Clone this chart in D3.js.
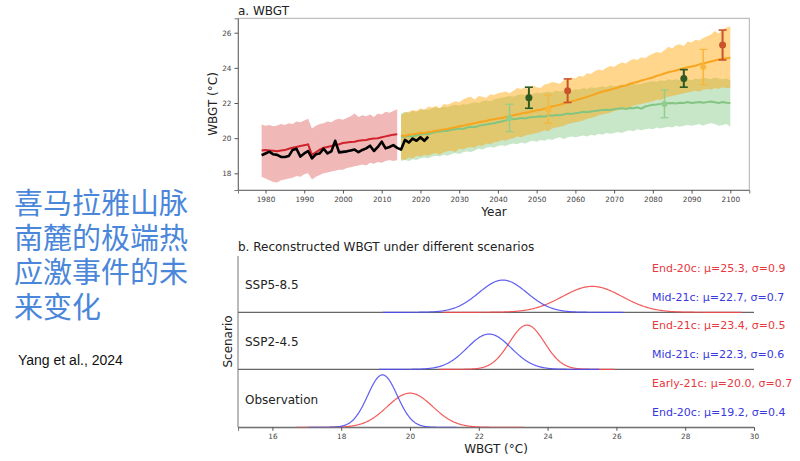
<!DOCTYPE html>
<html><head><meta charset="utf-8">
<script src="https://cdn.jsdelivr.net/npm/d3@7"></script>
<style>
body{margin:0;background:#fff}
svg{display:block}
text{font-family:"DejaVu Sans",sans-serif}
</style>
</head><body>
<svg id="c" width="800" height="461"></svg>
<script>
// ---------------- DATA ----------------
const histStart = 1979;   // historical model run 1979-2014
const histMean  = [19.3,19.32,19.3,19.28,19.25,19.3,19.32,19.4,19.45,19.5,19.55,19.6,19.65,19.05,19.2,19.35,19.45,19.5,19.55,19.6,19.65,19.72,19.75,19.78,19.8,19.85,19.88,19.9,19.95,19.98,20.0,20.05,20.1,20.15,20.2,20.22];
const histUpper = [20.78,20.7,20.75,20.68,20.72,20.8,20.75,20.85,20.8,20.95,20.9,21.0,21.1,20.55,20.7,20.8,20.85,20.95,20.9,21.05,21.1,21.05,21.15,21.25,21.4,21.2,21.3,21.25,21.35,21.2,21.4,21.35,21.5,21.45,21.55,21.65];
const histLower = [17.8,17.7,17.6,17.5,17.48,17.6,17.65,17.7,17.75,17.85,17.8,17.95,18.0,17.65,17.8,17.9,18.0,18.05,18.1,18.15,18.2,18.2,18.3,18.35,18.4,18.45,18.5,18.45,18.6,18.55,18.65,18.6,18.7,18.75,18.7,18.76];

const obsStart = 1979;    // observation 1979-2022
const obsValues = [19.03,19.13,19.23,19.08,19.05,18.93,18.93,18.98,19.33,19.4,18.95,19.13,19.27,18.85,19.08,19.13,19.4,19.13,19.25,19.85,19.19,19.22,19.25,19.3,19.35,19.2,19.33,19.42,19.57,19.27,19.5,19.8,19.42,19.5,19.6,19.45,19.35,19.9,19.75,19.98,19.85,20.05,19.85,20.08];

const projStart = 2015;   // projections 2015-2100
const ssp585Mean  = [20.15,20.12,20.2,20.22,20.25,20.3,20.28,20.35,20.38,20.42,20.45,20.5,20.52,20.58,20.62,20.68,20.7,20.76,20.8,20.85,20.9,20.95,20.98,21.05,21.08,21.12,21.15,21.2,21.26,21.3,21.34,21.4,21.45,21.48,21.53,21.58,21.62,21.68,21.74,21.8,21.85,21.9,21.97,22.03,22.1,22.15,22.22,22.28,22.35,22.42,22.5,22.58,22.65,22.7,22.75,22.82,22.88,22.95,23.0,23.08,23.15,23.2,23.28,23.33,23.4,23.45,23.55,23.6,23.68,23.75,23.8,23.85,23.92,23.98,24.03,24.08,24.12,24.2,24.25,24.3,24.36,24.42,24.48,24.52,24.55,24.57];
const ssp585Upper = [21.3,21.45,21.5,21.6,21.55,21.7,21.6,21.8,21.75,21.85,21.7,21.95,21.9,22.0,22.1,22.05,22.2,22.3,22.35,22.2,22.4,22.35,22.3,22.5,22.45,22.55,22.6,22.65,22.55,22.7,22.85,22.8,22.9,22.75,23.0,22.9,22.85,23.05,23.1,23.2,23.15,23.1,23.3,23.35,23.45,23.4,23.55,23.5,23.7,23.65,23.8,23.9,23.85,24.0,24.1,24.05,24.2,24.3,24.25,24.4,24.5,24.45,24.6,24.55,24.7,24.8,24.9,24.85,25.0,25.2,25.1,25.3,25.35,25.25,25.5,25.45,25.6,25.55,25.7,25.8,25.9,26.1,25.95,26.2,26.3,26.35];
const ssp585Lower = [18.8,18.75,18.9,18.85,19.0,18.95,19.05,19.0,19.1,19.15,19.05,19.2,19.25,19.3,19.2,19.4,19.35,19.45,19.5,19.45,19.6,19.55,19.7,19.65,19.75,19.8,19.9,19.85,19.95,20.0,20.1,20.05,20.15,20.2,20.25,20.3,20.35,20.45,20.4,20.55,20.6,20.65,20.7,20.8,20.85,20.9,20.95,21.0,21.1,21.15,21.2,21.3,21.35,21.4,21.45,21.55,21.6,21.65,21.7,21.75,21.85,21.9,21.95,22.0,22.05,22.1,22.2,22.15,22.3,22.35,22.4,22.45,22.5,22.55,22.6,22.65,22.7,22.65,22.75,22.8,22.75,22.85,22.8,22.9,22.85,22.85];
const ssp245Mean  = [20.05,20.1,20.12,20.1,20.15,20.2,20.25,20.22,20.3,20.35,20.38,20.4,20.42,20.48,20.5,20.55,20.52,20.6,20.65,20.62,20.7,20.75,20.78,20.82,20.85,20.9,20.95,21.0,21.1,21.08,21.1,21.15,21.12,21.18,21.2,21.22,21.25,21.22,21.3,21.28,21.32,21.3,21.35,21.4,21.38,21.42,21.45,21.5,21.48,21.52,21.55,21.58,21.6,21.62,21.6,21.65,21.68,21.7,21.66,21.72,21.7,21.75,21.68,21.8,21.85,21.9,21.92,21.95,22.0,21.98,22.0,21.97,22.02,22.0,22.05,22.0,22.03,22.06,22.02,22.05,22.08,22.04,22.0,22.05,22.02,22.0];
const ssp245Upper = [21.4,21.5,21.45,21.55,21.5,21.6,21.65,21.6,21.7,21.75,21.7,21.8,21.75,21.85,21.9,21.85,21.95,21.9,22.0,22.05,22.0,22.1,22.15,22.1,22.2,22.25,22.3,22.35,22.4,22.35,22.45,22.5,22.45,22.55,22.5,22.6,22.55,22.6,22.65,22.6,22.7,22.65,22.7,22.75,22.7,22.8,22.75,22.85,22.8,22.9,22.85,22.9,22.95,22.9,23.0,22.95,23.0,23.05,22.95,23.05,23.1,23.05,23.1,23.15,23.2,23.25,23.2,23.3,23.25,23.35,23.3,23.35,23.3,23.4,23.35,23.3,23.4,23.35,23.45,23.4,23.35,23.45,23.4,23.35,23.4,23.3];
const ssp245Lower = [18.7,18.75,18.7,18.8,18.75,18.85,18.9,18.85,18.95,19.0,18.95,19.05,19.0,19.1,19.15,19.1,19.2,19.25,19.2,19.3,19.4,19.35,19.45,19.5,19.45,19.55,19.6,19.55,19.65,19.7,19.65,19.75,19.7,19.8,19.85,19.8,19.9,19.85,19.95,19.9,20.0,20.05,19.95,20.05,20.1,20.05,20.1,20.15,20.1,20.2,20.15,20.25,20.2,20.3,20.25,20.3,20.35,20.3,20.4,20.45,20.4,20.5,20.45,20.5,20.55,20.5,20.6,20.55,20.6,20.65,20.6,20.7,20.65,20.7,20.75,20.7,20.75,20.8,20.7,20.8,20.85,20.8,20.7,20.75,20.8,20.65];

// error bars: [year, value, half-range]
const ssp245ModelBars = [[2043,21.15,0.78],[2083,21.95,0.79]];
const ssp585ModelBars = [[2053,21.65,0.8],[2093,24.05,1.0]];
const ssp245ReconBars = [[2048,22.3,0.6],[2088,23.4,0.5]];
const ssp585ReconBars = [[2058,22.7,0.67],[2098,25.3,0.85]];

const xTicksTop = [1980,1990,2000,2010,2020,2030,2040,2050,2060,2070,2080,2090,2100];
const yTicksTop = [18,20,22,24,26];

// panel b
const scenarios   = ["SSP5-8.5","SSP2-4.5","Observation"];
const redLabels   = ["End-20c","End-21c","Early-21c"];
const redMu       = [25.3,23.4,20.0];
const redSigma    = [0.87,0.51,0.66];
const blueLabels  = ["Mid-21c","Mid-21c","End-20c"];
const blueMu      = [22.7,22.3,19.2];
const blueSigma   = [0.70,0.64,0.43];
const xTicksBottom = [16,18,20,22,24,26,28,30];

const titleLines = ["喜马拉雅山脉","南麓的极端热","应激事件的未","来变化"];
const citation = "Yang et al., 2024";

// ---------------- DRAW ----------------
const svg = d3.select("#c");

// left text (one text block, wrapped in lines)
svg.append("text")
  .style("font-family",'"Liberation Sans","Noto Sans CJK SC",sans-serif')
  .style("font-size","29px").attr("fill","#4a86d9")
  .selectAll("tspan").data(titleLines).join("tspan")
  .attr("x",14).attr("y",(d,i)=>214+i*34.5).text(d=>d);
svg.append("text").attr("x",18).attr("y",365)
  .style("font-family",'"Liberation Sans",Arial,sans-serif')
  .style("font-size","14px").attr("fill","#111").text(citation);

// ===== Panel a =====
const L=238, R=749.3, T=18.3, B=190;
const x = d3.scaleLinear().domain([1972.9,2104.9]).range([L,R]);
const y = d3.scaleLinear().domain([17.05,26.82]).range([B,T]);
const gA = svg.append("g");

function bandData(start, up, lo){ return up.map((u,i)=>({yr:start+i,u:u,l:lo[i]})); }
function lineData(start, vals){ return vals.map((v,i)=>({yr:start+i,v:v})); }
const area = d3.area().x(d=>x(d.yr)).y0(d=>y(d.l)).y1(d=>y(d.u));
const line = d3.line().x(d=>x(d.yr)).y(d=>y(d.v));

gA.append("path").datum(bandData(histStart,histUpper,histLower)).attr("d",area)
  .attr("fill","#d62728").attr("fill-opacity",0.33);
gA.append("path").datum(bandData(projStart,ssp245Upper,ssp245Lower)).attr("d",area)
  .attr("fill","#2ca02c").attr("fill-opacity",0.26);
gA.append("path").datum(bandData(projStart,ssp585Upper,ssp585Lower)).attr("d",area)
  .attr("fill","#ffa500").attr("fill-opacity",0.45);

gA.append("path").datum(lineData(histStart,histMean)).attr("d",line)
  .attr("fill","none").attr("stroke","#d0222a").attr("stroke-width",2);
gA.append("path").datum(lineData(projStart,ssp245Mean)).attr("d",line)
  .attr("fill","none").attr("stroke","#82c582").attr("stroke-width",2);
gA.append("path").datum(lineData(projStart,ssp585Mean)).attr("d",line)
  .attr("fill","none").attr("stroke","#f7a51e").attr("stroke-width",2);
gA.append("path").datum(lineData(obsStart,obsValues)).attr("d",line)
  .attr("fill","none").attr("stroke","#000").attr("stroke-width",2.6).attr("stroke-linejoin","round");

function errBars(data,color,w,r){
  const g=gA.append("g");
  data.forEach(([yr,v,e])=>{
    g.append("line").attr("x1",x(yr)).attr("x2",x(yr)).attr("y1",y(v-e)).attr("y2",y(v+e))
      .attr("stroke",color).attr("stroke-width",w);
    [v-e,v+e].forEach(c=>g.append("line").attr("x1",x(yr)-4).attr("x2",x(yr)+4)
      .attr("y1",y(c)).attr("y2",y(c)).attr("stroke",color).attr("stroke-width",w*0.8));
    g.append("circle").attr("cx",x(yr)).attr("cy",y(v)).attr("r",r).attr("fill",color);
  });
}
errBars(ssp245ModelBars,"#92cd8e",1.5,3);
errBars(ssp585ModelBars,"#f8b63a",1.5,3);
errBars(ssp245ReconBars,"#2f5a22",2,3.5);
errBars(ssp585ReconBars,"#c9532b",2,3.5);

// frame
gA.append("rect").attr("x",L).attr("y",T).attr("width",R-L).attr("height",B-T)
  .attr("fill","none").attr("stroke","#b0b0b0").attr("stroke-width",1);
const xAxA = gA.append("g").attr("transform",`translate(0,${B})`)
  .call(d3.axisBottom(x).tickValues(xTicksTop).tickFormat(d3.format("d")).tickSize(3.5).tickPadding(3));
const yAxA = gA.append("g").attr("transform",`translate(${L},0)`)
  .call(d3.axisLeft(y).tickValues(yTicksTop).tickSize(3.5).tickPadding(3));
[xAxA,yAxA].forEach(a=>{
  a.select(".domain").attr("stroke","#777");
  a.selectAll(".tick line").attr("stroke","#555");
  a.selectAll(".tick text").attr("fill","#444").style("font-size","7.3px").style("font-family","DejaVu Sans");
});
gA.append("text").attr("x",238).attr("y",15).style("font-size","12px").attr("fill","#222").text("a. WBGT");
gA.append("text").attr("x",494).attr("y",216).attr("text-anchor","middle").style("font-size","12px").attr("fill","#222").text("Year");
gA.append("text").attr("transform",`translate(216.5,104) rotate(-90)`).attr("text-anchor","middle")
  .style("font-size","12px").attr("fill","#222").text("WBGT (°C)");

// ===== Panel b =====
const L2=238, R2=754, T2=256;
const bottoms=[312.3,369.3,427.3];
const panelH=56.5;
const x2 = d3.scaleLinear().domain([15,30]).range([L2,R2]);
const gB = svg.append("g");

function pdf(v,mu,s){ return Math.exp(-0.5*((v-mu)/s)**2)/(s*Math.sqrt(2*Math.PI)); }

scenarios.forEach((name,i)=>{
  const bot=bottoms[i];
  const yd = d3.scaleLinear().domain([0,1.0]).range([bot,bot-panelH]);
  const crv = d3.line().x(d=>x2(d[0])).y(d=>yd(d[1]));
  gB.append("line").attr("x1",L2).attr("x2",R2).attr("y1",bot).attr("y2",bot)
    .attr("stroke","#666").attr("stroke-width",1.2);
  const curves=[[redMu[i],redSigma[i],"#f24a4a"],[blueMu[i],blueSigma[i],"#4d4df2"]];
  curves.forEach(([mu,s,col])=>{
    const pts=d3.range(0,401).map(k=>{const v=mu-5*s+k*(10*s/400);return [v,pdf(v,mu,s)];});
    gB.append("path").datum(pts).attr("d",crv).attr("fill","none")
      .attr("stroke",col).attr("stroke-width",1.2).attr("stroke-opacity",0.9);
  });
  gB.append("text").attr("x",245).attr("y",bot-23).style("font-size","12px").attr("fill","#222").text(name);
  gB.append("text").attr("x",652).attr("y",bot-40).style("font-size","11px").attr("fill","#e8383d")
    .text(`${redLabels[i]}: μ=${redMu[i].toFixed(1)}, σ=${redSigma[i].toFixed(1)}`);
  gB.append("text").attr("x",652).attr("y",bot-11).style("font-size","11px").attr("fill","#3838e0")
    .text(`${blueLabels[i]}: μ=${blueMu[i].toFixed(1)}, σ=${blueSigma[i].toFixed(1)}`);
});
gB.append("line").attr("x1",L2).attr("x2",L2).attr("y1",T2).attr("y2",bottoms[2]).attr("stroke","#777").attr("stroke-width",1);
const xAxB = gB.append("g").attr("transform",`translate(0,${bottoms[2]})`)
  .call(d3.axisBottom(x2).tickValues(xTicksBottom).tickSize(3.5).tickPadding(3));
xAxB.select(".domain").attr("stroke","#777");
xAxB.selectAll(".tick line").attr("stroke","#555");
xAxB.selectAll(".tick text").attr("fill","#444").style("font-size","7.3px").style("font-family","DejaVu Sans");

gB.append("text").attr("x",238).attr("y",251).style("font-size","12px").attr("fill","#222")
  .text("b. Reconstructed WBGT under different scenarios");
gB.append("text").attr("x",496).attr("y",453).attr("text-anchor","middle").style("font-size","12px").attr("fill","#222").text("WBGT (°C)");
gB.append("text").attr("transform",`translate(232,341.5) rotate(-90)`).attr("text-anchor","middle")
  .style("font-size","12px").attr("fill","#222").text("Scenario");
</script>
</body></html>
